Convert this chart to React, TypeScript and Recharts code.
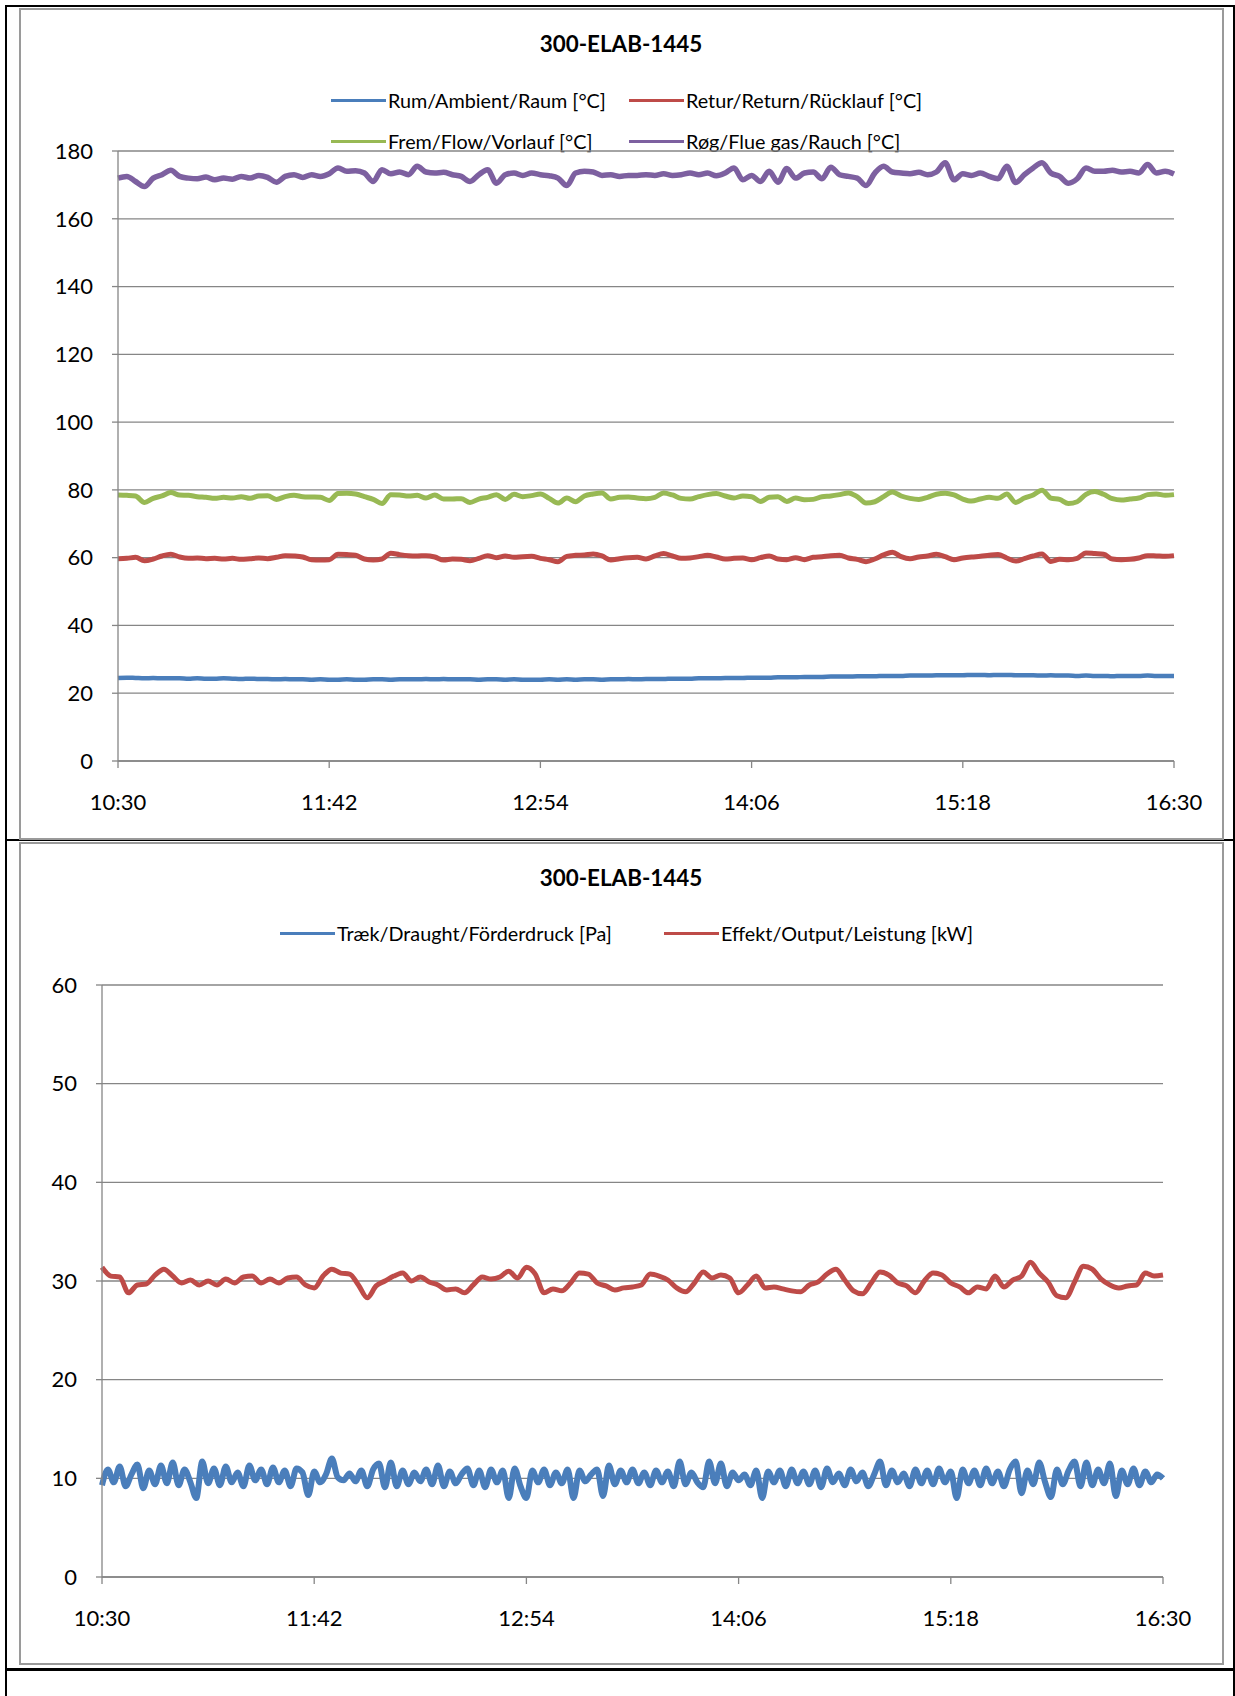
import { LineChart, Line, XAxis, YAxis, CartesianGrid } from "recharts"

// x axis is minutes after 10:30
const xTicks = [0, 72, 144, 216, 288, 360]
const xTickLabels = ["10:30", "11:42", "12:54", "14:06", "15:18", "16:30"]
const tempTicks = [0, 20, 40, 60, 80, 100, 120, 140, 160, 180]
const draughtTicks = [0, 10, 20, 30, 40, 50, 60]

const chartTitle = "300-ELAB-1445"
const tempNames = ["Rum/Ambient/Raum [°C]", "Retur/Return/Rücklauf [°C]", "Frem/Flow/Vorlauf [°C]", "Røg/Flue gas/Rauch [°C]"]
const bottomNames = ["Træk/Draught/Förderdruck [Pa]", "Effekt/Output/Leistung [kW]"]

// temperatures, one value every 3 minutes
const ambient = [
  24.5, 24.6, 24.5, 24.4, 24.5, 24.4, 24.4, 24.4, 24.3, 24.4,
  24.3, 24.3, 24.4, 24.3, 24.2, 24.3, 24.2, 24.2, 24.1, 24.2,
  24.1, 24.1, 24.0, 24.1, 24.0, 24.0, 24.1, 24.0, 24.0, 24.1,
  24.1, 24.0, 24.1, 24.1, 24.1, 24.2, 24.1, 24.2, 24.1, 24.1,
  24.1, 24.0, 24.1, 24.1, 24.0, 24.1, 24.0, 24.0, 24.0, 24.1,
  24.0, 24.1, 24.0, 24.1, 24.1, 24.0, 24.1, 24.1, 24.2, 24.1,
  24.2, 24.2, 24.2, 24.3, 24.3, 24.3, 24.4, 24.4, 24.4, 24.5,
  24.5, 24.5, 24.6, 24.6, 24.6, 24.7, 24.7, 24.7, 24.8, 24.8,
  24.8, 24.9, 24.9, 24.9, 25.0, 25.0, 25.0, 25.1, 25.1, 25.1,
  25.2, 25.2, 25.2, 25.3, 25.3, 25.3, 25.3, 25.4, 25.4, 25.3,
  25.4, 25.4, 25.3, 25.3, 25.3, 25.2, 25.3, 25.2, 25.2, 25.1,
  25.2, 25.1, 25.1, 25.0, 25.1, 25.1, 25.1, 25.2, 25.1, 25.1,
  25.1,
]

const retur = [
  59.7, 59.8, 60.1, 59.1, 59.6, 60.5, 61, 60.2, 59.8, 59.9,
  59.7, 59.8, 59.6, 59.8, 59.5, 59.7, 59.9, 59.7, 60.1, 60.6,
  60.5, 60.2, 59.4, 59.3, 59.4, 61, 60.9, 60.7, 59.6, 59.3,
  59.6, 61.3, 60.9, 60.6, 60.5, 60.6, 60.2, 59.3, 59.6, 59.5,
  59.1, 59.8, 60.6, 60, 60.5, 60.1, 60.3, 60.4, 59.8, 59.4,
  58.8, 60.4, 60.7, 60.8, 61.1, 60.5, 59.3, 59.7, 60, 60.1,
  59.6, 60.5, 61.2, 60.5, 59.8, 59.9, 60.3, 60.7, 60.2, 59.6,
  59.8, 59.9, 59.4, 60, 60.5, 59.6, 59.4, 60, 59.4, 60.1,
  60.3, 60.6, 60.7, 59.9, 59.5, 58.8, 59.6, 60.8, 61.6, 60.3,
  59.7, 60.2, 60.5, 61, 60.3, 59.4, 59.9, 60.2, 60.4, 60.7,
  60.9, 59.9, 59, 59.7, 60.5, 61.1, 58.9, 59.5, 59.4, 59.8,
  61.4, 61.2, 61, 59.6, 59.4, 59.5, 59.9, 60.6, 60.5, 60.4,
  60.6,
]

const frem = [
  78.5, 78.4, 78.2, 76.3, 77.5, 78.2, 79.2, 78.5, 78.4, 78,
  77.8, 77.5, 77.8, 77.6, 78, 77.5, 78.2, 78.3, 77.2, 78,
  78.4, 78, 77.9, 77.8, 76.9, 78.9, 79, 78.8, 78, 77.2,
  76, 78.6, 78.5, 78.2, 78.4, 77.6, 78.5, 77.3, 77.3, 77.4,
  76.3, 77.3, 77.8, 78.6, 77.2, 78.7, 78, 78.3, 78.8, 77.5,
  76.1, 77.6, 76.5, 78.2, 78.8, 79.1, 77.3, 77.8, 77.9, 77.6,
  77.4, 77.8, 79.1, 78.5, 77.5, 77.3, 78, 78.6, 78.9, 78.2,
  77.6, 78.2, 78, 76.6, 77.8, 78, 76.6, 77.6, 77.1, 77.2,
  78, 78.2, 78.6, 79.1, 78, 76.1, 76.5, 78, 79.4, 78.2,
  77.5, 77.2, 77.8, 78.7, 79, 78.5, 77.3, 76.7, 77.3, 77.8,
  77.5, 78.8, 76.3, 77.6, 78.5, 79.9, 77.6, 77.2, 76, 76.5,
  78.7, 79.5, 78.7, 77.4, 77, 77.3, 77.6, 78.6, 78.8, 78.4,
  78.6,
]

const roeg = [
  172, 172.5, 171, 169.5, 172, 173, 174.3, 172.5, 172, 171.8,
  172.3, 171.5, 172, 171.7, 172.5, 172, 172.8, 172.2, 170.8, 172.5,
  173, 172.2, 173, 172.5, 173.3, 175, 174, 174.2, 173.5, 171,
  174.5, 173.3, 173.8, 173, 175.5, 173.8, 173.5, 173.7, 173, 172.5,
  171, 173, 174.5, 170.5, 173, 173.5, 172.8, 173.5, 173, 172.7,
  172, 169.8, 173.5, 174, 173.8, 172.8, 173, 172.5, 172.8, 172.8,
  173, 172.8, 173.3, 172.8, 173, 173.5, 173, 173.5, 172.7, 173.5,
  175, 171.5, 172.8, 171, 174, 170.8, 174.8, 172, 173.5, 173.8,
  171.8, 175.2, 173, 172.5, 172, 169.8, 173.5, 175.5, 173.8, 173.5,
  173.3, 173.7, 173, 173.8, 176.5, 171.5, 173.3, 172.8, 173.5, 172.5,
  171.8, 175.5, 170.7, 173, 175, 176.5, 173.5, 172.5, 170.5, 171.8,
  175, 174, 174, 174.3, 173.8, 174, 173.5, 176, 173.5, 174,
  173.2,
]

// draught, one value every 2 minutes
const draught = [
  9.3, 10.9, 9.6, 11.2, 9.2, 10.4, 11.4, 9.0, 10.8, 9.4,
  11.3, 9.5, 11.6, 9.3, 10.9, 9.6, 8.0, 11.7, 9.5, 11.0,
  9.3, 11.2, 9.6, 10.6, 9.2, 11.3, 9.8, 10.9, 9.4, 11.1,
  9.6, 10.8, 9.2, 11.0, 10.6, 8.3, 10.7, 9.6, 10.4, 12.0,
  10.1, 9.8, 10.5, 9.7, 10.8, 9.2, 10.9, 11.5, 9.1, 11.6,
  9.2, 10.8, 9.4, 10.6, 9.7, 10.9, 9.4, 11.3, 9.2, 10.7,
  9.5, 10.4, 11.0, 9.3, 10.8, 9.1, 10.9, 9.6, 10.8, 8.0,
  11.0, 9.2, 8.0, 10.8, 9.6, 10.9, 9.3, 10.6, 9.5, 10.9,
  8.0, 10.8, 9.7, 10.4, 10.9, 8.2, 11.3, 9.4, 10.8, 9.6,
  10.9, 9.5, 10.6, 9.3, 10.8, 9.6, 10.7, 9.2, 11.7, 9.4,
  10.6, 9.6, 9.1, 11.7, 9.5, 11.5, 9.2, 10.6, 9.8, 10.4,
  9.3, 10.8, 8.0, 10.7, 9.6, 10.8, 9.2, 10.9, 9.5, 10.7,
  9.4, 10.8, 9.1, 11.0, 9.6, 10.5, 9.3, 10.9, 9.7, 10.6,
  9.2, 10.4, 11.7, 9.3, 10.8, 9.6, 10.5, 9.2, 10.9, 9.5,
  10.8, 9.4, 11.0, 9.6, 10.7, 8.0, 10.9, 9.5, 10.8, 9.3,
  11.0, 9.5, 10.7, 9.2, 10.9, 11.7, 8.5, 10.8, 9.4, 11.6,
  9.6, 8.1, 10.9, 9.4, 10.8, 11.7, 9.2, 11.6, 9.3, 10.9,
  9.5, 11.5, 8.2, 10.8, 9.4, 11.0, 9.3, 10.7, 9.6, 10.4,
  10.0,
]

// output, one value every 3 minutes
const output = [
  31.4, 30.5, 30.4, 28.8, 29.6, 29.7, 30.6, 31.2, 30.5, 29.8,
  30.1, 29.6, 30, 29.6, 30.2, 29.8, 30.4, 30.5, 29.8, 30.2,
  29.8, 30.3, 30.4, 29.6, 29.3, 30.5, 31.2, 30.8, 30.7, 29.6,
  28.3, 29.5, 30, 30.5, 30.8, 30, 30.4, 29.9, 29.6, 29.1,
  29.2, 28.8, 29.6, 30.4, 30.2, 30.4, 31, 30.3, 31.4, 30.7,
  28.8, 29.2, 29, 29.8, 30.8, 30.7, 29.8, 29.5, 29.1, 29.3,
  29.4, 29.6, 30.7, 30.5, 30.1, 29.3, 28.9, 29.8, 30.9, 30.3,
  30.6, 30.3, 28.8, 29.6, 30.5, 29.3, 29.4, 29.2, 29, 28.9,
  29.6, 29.9, 30.7, 31.2, 30.1, 29, 28.7, 29.8, 30.9, 30.6,
  29.8, 29.5, 28.8, 30, 30.8, 30.6, 29.8, 29.4, 28.8, 29.4,
  29.2, 30.5, 29.4, 30.1, 30.5, 31.9, 30.8, 29.9, 28.5, 28.3,
  29.9, 31.5, 31.2, 30.2, 29.6, 29.3, 29.5, 29.6, 30.8, 30.5,
  30.6,
]

const BLUE = "#4A7EBB"
const RED = "#BE4B48"
const GREEN = "#98B954"
const PURPLE = "#7D60A0"
const GRID = "#868686"
const FONT = "Lato, 'Open Sans', sans-serif"

const tempData = ambient.map((v, i) => ({
  m: i * 3,
  ambient: v,
  retur: retur[i],
  frem: frem[i],
  roeg: roeg[i],
}))
const draughtData = draught.map((v, i) => ({ m: i * 2, draught: v }))
const outputData = output.map((v, i) => ({ m: i * 3, output: v }))

const fmtTime = (v: number) => xTickLabels[xTicks.indexOf(v)] ?? ""
const tickStyle = { fontSize: 22, fill: "#000", fontFamily: FONT }

function LegendItem({ color, label, x, y }: { color: string; label: string; x: number; y: number }) {
  return (
    <div style={{ position: "absolute", left: x, top: y - 12, height: 24, display: "flex", alignItems: "center", whiteSpace: "nowrap" }}>
      <span style={{ display: "inline-block", width: 55, height: 3, background: color, marginRight: 2 }} />
      <span style={{ fontSize: 19.8, color: "#000" }}>{label}</span>
    </div>
  )
}

function Title({ y }: { y: number }) {
  return (
    <div style={{ position: "absolute", left: 20, width: 1202, top: y - 14, textAlign: "center", fontWeight: 700, fontSize: 22.4, lineHeight: "28px" }}>
      {chartTitle}
    </div>
  )
}

export default function App() {
  return (
    <div style={{ position: "relative", width: 1235, height: 1696, background: "#fff", fontFamily: FONT, overflow: "hidden" }}>
      <style>{"body{margin:0}"}</style>

      {/* table cell borders */}
      <div style={{ position: "absolute", left: 5, top: 5, width: 1226, height: 1700, borderLeft: "2px solid #000", borderTop: "2px solid #000", borderRight: "2px solid #000" }} />
      <div style={{ position: "absolute", left: 5, top: 839, width: 1230, height: 2, background: "#000" }} />
      <div style={{ position: "absolute", left: 5, top: 1668, width: 1230, height: 3, background: "#000" }} />

      {/* chart frames */}
      <div style={{ position: "absolute", left: 19, top: 8, width: 1201, height: 828, border: "2px solid #9a9a9a" }} />
      <div style={{ position: "absolute", left: 19, top: 842, width: 1201, height: 819, border: "2px solid #9a9a9a" }} />

      <Title y={44} />
      <LegendItem color={BLUE} label={tempNames[0]} x={331} y={100} />
      <LegendItem color={RED} label={tempNames[1]} x={629} y={100} />
      <LegendItem color={GREEN} label={tempNames[2]} x={331} y={141} />
      <LegendItem color={PURPLE} label={tempNames[3]} x={629} y={141} />

      <div style={{ position: "absolute", left: 0, top: 0 }}>
        <LineChart width={1235} height={840} data={tempData} margin={{ top: 151, right: 61, bottom: 29, left: 58 }}>
          <CartesianGrid horizontal vertical={false} stroke={GRID} strokeWidth={1.3} />
          <XAxis
            dataKey="m"
            type="number"
            domain={[0, 360]}
            ticks={xTicks}
            interval={0}
            tickFormatter={fmtTime}
            tick={tickStyle}
            axisLine={{ stroke: GRID, strokeWidth: 1.3 }}
            tickLine={{ stroke: GRID, strokeWidth: 1.3 }}
            tickSize={7}
            tickMargin={26}
            height={50}
          />
          <YAxis
            type="number"
            domain={[0, 180]}
            ticks={tempTicks}
            interval={0}
            tick={tickStyle}
            axisLine={{ stroke: GRID, strokeWidth: 1.3 }}
            tickLine={{ stroke: GRID, strokeWidth: 1.3 }}
            tickSize={6}
            tickMargin={19}
            width={60}
          />
          <Line type="monotone" dataKey="ambient" stroke={BLUE} strokeWidth={4.5} dot={false} isAnimationActive={false} />
          <Line type="monotone" dataKey="retur" stroke={RED} strokeWidth={5} dot={false} isAnimationActive={false} />
          <Line type="monotone" dataKey="frem" stroke={GREEN} strokeWidth={5} dot={false} isAnimationActive={false} />
          <Line type="monotone" dataKey="roeg" stroke={PURPLE} strokeWidth={5.5} dot={false} isAnimationActive={false} />
        </LineChart>
      </div>

      <Title y={878} />
      <LegendItem color={BLUE} label={bottomNames[0]} x={280} y={933} />
      <LegendItem color={RED} label={bottomNames[1]} x={664} y={933} />

      <div style={{ position: "absolute", left: 0, top: 840 }}>
        <LineChart width={1235} height={840} margin={{ top: 145, right: 72, bottom: 53, left: 42 }}>
          <CartesianGrid horizontal vertical={false} stroke={GRID} strokeWidth={1.3} />
          <XAxis
            dataKey="m"
            type="number"
            domain={[0, 360]}
            ticks={xTicks}
            interval={0}
            tickFormatter={fmtTime}
            tick={tickStyle}
            axisLine={{ stroke: GRID, strokeWidth: 1.3 }}
            tickLine={{ stroke: GRID, strokeWidth: 1.3 }}
            tickSize={7}
            tickMargin={26}
            height={50}
            allowDuplicatedCategory={false}
          />
          <YAxis
            type="number"
            domain={[0, 60]}
            ticks={draughtTicks}
            interval={0}
            tick={tickStyle}
            axisLine={{ stroke: GRID, strokeWidth: 1.3 }}
            tickLine={{ stroke: GRID, strokeWidth: 1.3 }}
            tickSize={6}
            tickMargin={19}
            width={60}
          />
          <Line type="monotone" data={draughtData} dataKey="draught" stroke={BLUE} strokeWidth={6} dot={false} isAnimationActive={false} />
          <Line type="monotone" data={outputData} dataKey="output" stroke={RED} strokeWidth={5} dot={false} isAnimationActive={false} />
        </LineChart>
      </div>
    </div>
  )
}
